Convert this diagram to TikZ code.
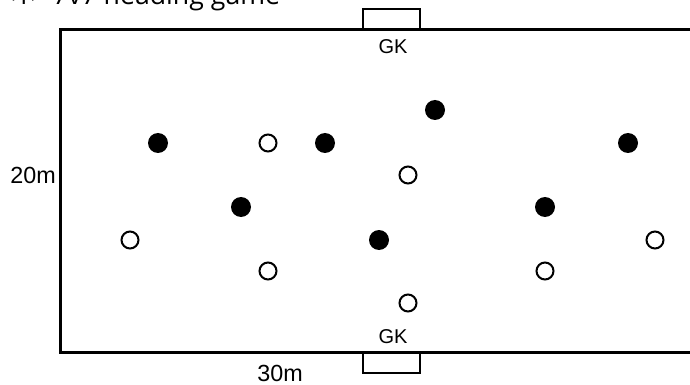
\documentclass[tikz,border=0pt]{standalone}
\usepackage{fontspec}
\setmainfont{Liberation Sans}
\newfontfamily\titlefont{Open Sans}
\begin{document}
\begin{tikzpicture}[x=0.75pt,y=-0.75pt,
  fieldline/.style={line width=2.25pt, line join=miter},
  goalbox/.style={line width=2pt},
  blackplayer/.style={circle, fill=black, inner sep=0pt, minimum size=15pt},
  whiteplayer/.style={circle, draw=black, line width=1.5pt, fill=white, inner sep=0pt, minimum size=12.75pt},
  gklabel/.style={font=\fontsize{15}{18}\selectfont, inner sep=0pt},
  dimlabel/.style={font=\fontsize{17.5}{20}\selectfont, inner sep=0pt}]
\useasboundingbox (0,0) rectangle (690,385);
% title (cut off at the top of the picture, as in the reference)
\node[anchor=base west, inner sep=0pt, font=\titlefont\fontsize{20}{24}\selectfont] (title) at (0,5) {<1> 7v7 heading game};
% field
\draw[fieldline] (700,30) -- (60,30) -- (60,352) -- (700,352);
% goals
\draw[goalbox] (363,30) -- (363,9) -- (420,9) -- (420,30);
\draw[goalbox] (363,352) -- (363,373) -- (420,373) -- (420,352);
\node[gklabel] (gktop) at (393,47) {GK};
\node[gklabel] (gkbot) at (393,337) {GK};
% dimensions
\node[dimlabel, anchor=east] (width) at (56,175) {20m};
\node[dimlabel] (length) at (280,373) {30m};
% black team
\node[blackplayer] (b1) at (158,143) {};
\node[blackplayer] (b2) at (325,143) {};
\node[blackplayer] (b3) at (435,110) {};
\node[blackplayer] (b4) at (628,143) {};
\node[blackplayer] (b5) at (241,207) {};
\node[blackplayer] (b6) at (545,207) {};
\node[blackplayer] (b7) at (379,240) {};
% white team
\node[whiteplayer] (w1) at (268,143) {};
\node[whiteplayer] (w2) at (408,175) {};
\node[whiteplayer] (w3) at (130,240) {};
\node[whiteplayer] (w4) at (655,240) {};
\node[whiteplayer] (w5) at (268,271) {};
\node[whiteplayer] (w6) at (545,271) {};
\node[whiteplayer] (w7) at (408,303) {};
\end{tikzpicture}
\end{document}
